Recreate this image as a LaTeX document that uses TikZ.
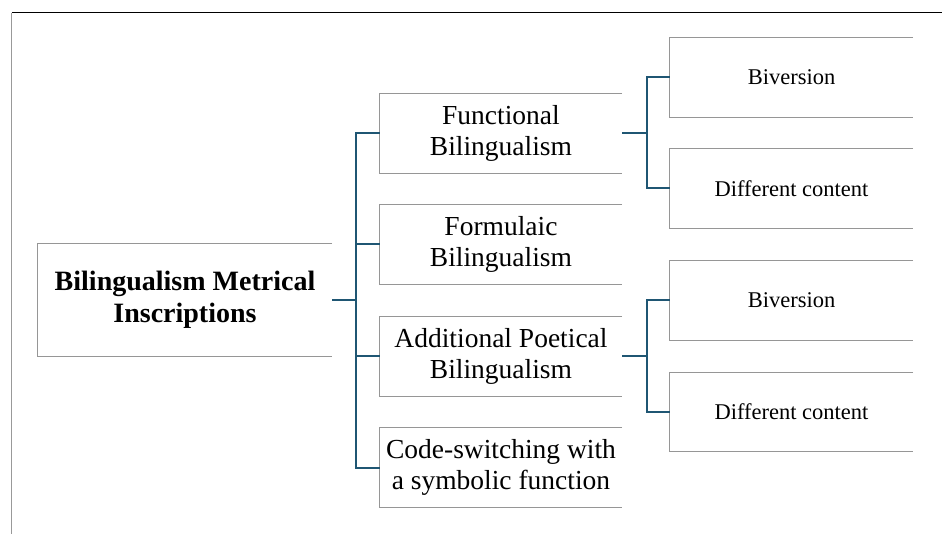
\documentclass[tikz,border=0pt]{standalone}
\usepackage{fontspec}
\setmainfont{Liberation Serif}
\definecolor{conncol}{RGB}{31,86,115}
\definecolor{boxcol}{RGB}{150,150,150}
\tikzset{
  openbox/.style={inner sep=0pt, align=center, text=black},
  lvlroot/.style={openbox, minimum width=294pt, minimum height=112pt, font=\bfseries\fontsize{28}{32}\selectfont},
  lvlone/.style={openbox, minimum width=242pt, minimum height=79pt, font=\fontsize{27.5}{31.5}\selectfont},
  lvltwo/.style={openbox, minimum width=243pt, minimum height=79pt, font=\fontsize{22.5}{26}\selectfont},
  edge3/.style={draw=boxcol, line width=1.3pt},
  conn/.style={draw=conncol, line width=2pt},
}
\newcommand{\openedge}[1]{\draw[edge3] (#1.north east) -- (#1.north west) -- (#1.south west) -- (#1.south east);}
\begin{document}
\begin{tikzpicture}[x=1pt,y=-1pt]
\useasboundingbox (0,0) rectangle (942,534);
\coordinate (fa) at (11.5,534);
\coordinate (fb) at (11.5,13);
\coordinate (fc) at (942,13);
\draw[gray!80, line width=1.5pt] (fa) -- (fb);
\draw[black, line width=1pt] (fb) -- (fc);

\node[lvlroot] (root) at (185,300) {Bilingualism Metrical\\Inscriptions};
\node[lvlone] (f1) at (501,133.5) {Functional\\Bilingualism};
\node[lvlone] (f2) at (501,244.5) {Formulaic\\Bilingualism};
\node[lvlone] (f3) at (501,356.5) {Additional Poetical\\Bilingualism};
\node[lvlone] (f4) at (501,467.5) {Code-switching with\\a symbolic function};
\node[lvltwo] (g1) at (791.5,77.5) {Biversion};
\node[lvltwo] (g2) at (791.5,188.5) {Different content};
\node[lvltwo] (g3) at (791.5,300.5) {Biversion};
\node[lvltwo] (g4) at (791.5,412) {Different content};

\foreach \n in {root,f1,f2,f3,f4,g1,g2,g3,g4} {\openedge{\n}}

\coordinate (j0) at (356,300);
\draw[conn] (root.east) -- (j0);
\foreach \n in {f1,f2,f3,f4} {\draw[conn] (j0) |- (\n.west);}
\coordinate (j1) at (647,133.5);
\draw[conn] (f1.east) -- (j1);
\foreach \n in {g1,g2} {\draw[conn] (j1) |- (\n.west);}
\coordinate (j3) at (647,356.5);
\draw[conn] (f3.east) -- (j3);
\foreach \n in {g3,g4} {\draw[conn] (j3) |- (\n.west);}
\end{tikzpicture}
\end{document}
